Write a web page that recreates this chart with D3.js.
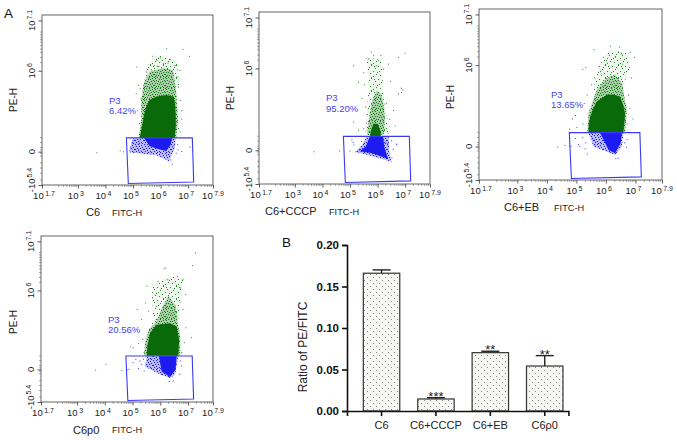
<!DOCTYPE html>
<html><head><meta charset="utf-8">
<script src="https://cdn.jsdelivr.net/npm/d3@7"></script>
<style>html,body{margin:0;background:#fff}svg{display:block}text{font-family:"Liberation Sans",Arial,sans-serif}</style>
</head><body><svg id="c" width="677" height="440"></svg>
<script>
// ---- flow cytometry data: x in log10 decades, y in channel % of the display ----
const xMajor=[1.7,3,4,5,6,7,7.9];
const xMajorSup=["1.7","3","4","5","6","7","7.9"];
const yMajor=[0,19.6,67.2,96.8];
const yMajorLabels=[["-10","5.4"],["0",""],["10","6"],["10","7.1"]];
const yMinor=[3,7,10,13,17,18.6,20.6,22,25,27.8,72,75,78,80,82,84,85.5,87,88.5,90];
const xMinorDecades=[2,3,4,5,6,7];
const xMinorFactors=[2,3,4,5,6,7,8,9];
const gate=[[4.76,27.7],[7.15,27.7],[7.2,1.8],[4.83,0.9]];

const c6Dense=[[5.24,27.6],[6.51,27.6],[6.55,34],[6.55,40.3],[6.53,47],[6.47,52],[6.21,53],[5.85,52],[5.6,50],[5.48,46],[5.4,41.3],[5.32,34],[5.27,30]];
const c6Mid=[[5.3,50],[5.39,59.9],[5.61,66.7],[6.09,68.7],[6.45,67.7],[6.57,54],[6.63,38.4],[6.57,27.8],[5.2,27.8],[5.3,38]];
const c6Light=[[5.36,56],[5.5,70],[5.8,76],[6.2,76],[6.6,72],[6.68,58],[6.3,55],[5.6,55]];
const c6BlueMid=[[5.0,27.4],[6.55,27.4],[6.5,21],[6.3,13.9],[6.05,16],[5.85,17.5],[5.3,18.5],[4.85,19.2]];
const c6BlueDense=[[5.4,27.6],[6.42,27.6],[6.36,23.5],[6.2,20],[5.85,21.5],[5.6,23]];
const c6Green=[[5.7,76],[6.2,80.4],[6.79,80],[7.03,76],[6.69,67.7],[5.12,69.7],[5.18,59],[5.1,54],[6.75,39],[6.69,31.5],[3.67,19.2],[4.52,20.4],[4.64,19.8],[5.85,73.6],[5.97,75],[6.09,71.6],[6.33,74],[6.51,70.6],[5.48,66.7],[5.75,70.6],[5.55,62.8],[6.57,63.8],[6.63,57.9],[5.24,57],[5.27,51],[6.69,50],[6.75,44],[5.15,44],[5.22,36.4],[6.63,33.5],[5.65,68],[5.92,70],[6.25,72],[6.42,66],[6.6,68],[5.42,60]];
const c6Blue=[[4.9,22],[4.95,25],[5.02,19.5],[5.1,23],[5.18,21],[6.6,24],[6.62,21],[6.55,19],[6.35,15],[6.4,12.5],[7.05,22.5],[6.75,20],[5.2,26],[4.98,26.5]];

const cccpMid=[[5.62,28.6],[6.22,28.6],[6.26,36],[6.24,44],[6.14,52],[5.98,54],[5.84,50],[5.72,42]];
const cccpDense=[[5.72,27.6],[6.12,27.6],[6.1,31],[6.0,35],[5.85,35],[5.76,31]];
const cccpLight=[[5.6,73.9],[6.14,72],[6.2,56.6],[6.26,43],[6.5,29.5],[5.56,28.6],[5.62,43],[5.68,58.5]];
const cccpBlueMid=[[5.6,27.6],[6.4,27.6],[6.42,20],[6.5,13],[6.14,14.5],[5.7,16.5],[5.2,18.8],[5.45,23]];
const cccpBlueDense=[[5.72,27.6],[6.2,27.6],[6.24,21.8],[6.38,14.5],[6.14,16],[5.78,18],[5.36,19],[5.58,22]];
const cccpGreen=[[6.98,76.3],[6.74,73.9],[5.11,69],[5.29,59.5],[6.84,56],[6.74,52.7],[5.11,36.3],[3.67,19],[4.6,19.5],[6.38,70],[5.84,74.9],[5.66,73],[6.02,72],[6.2,67],[5.48,65],[5.42,50],[6.56,43],[6.62,34],[5.48,32.4],[5.29,31.5],[6.9,55],[6.85,53.5],[6.45,60],[6.3,47],[6.42,38],[5.55,45],[5.5,58],[5.75,77],[5.95,69],[6.1,75]];
const cccpBlue=[[5.1,24.5],[5.12,23],[4.98,19.5],[6.66,23.5],[6.68,23],[5.05,26],[6.5,15.5],[6.55,20.5],[6.49,25.5],[5.32,20],[5.2,19],[6.35,24],[5.4,25]];

const ebDense=[[5.41,27.9],[6.59,27.9],[6.63,34],[6.65,39],[6.58,44],[6.48,48.8],[6.25,50],[6.03,49.8],[5.69,45.9],[5.55,41],[5.47,37.1],[5.42,32]];
const ebMid=[[5.37,27.9],[6.65,27.9],[6.71,41],[6.54,56.6],[6.31,61.5],[6.03,59.6],[5.69,52.7],[5.41,39]];
const ebLight=[[5.58,52.7],[5.75,66.4],[6.14,76.2],[6.71,74.2],[6.82,66.4],[6.54,52.7]];
const ebBlueMid=[[5.41,27.3],[6.59,27.3],[6.54,19.5],[6.31,14.6],[6.03,16.6],[5.58,19.5]];
const ebBlueDense=[[5.8,27.6],[6.54,27.6],[6.5,21.5],[6.31,15.6],[6.09,17.6],[5.95,22.5]];
const ebGreen=[[6.14,78.5],[6.45,78],[5.58,76.5],[6.8,75],[6.95,72],[5.3,66],[5.2,65],[5.6,60],[5.35,50],[4.95,38],[4.85,36],[5.25,45],[6.85,60],[6.75,50],[6.8,42],[5.9,72],[6.3,72],[5.5,56],[4.6,20.5],[4.35,19.5],[5.0,31],[5.2,33],[4.75,30],[6.7,33],[6.9,36],[6.55,68],[6.0,70],[6.5,74]];
const ebBlue=[[4.95,24.5],[5.05,21],[5.2,25],[5.1,20],[5.3,22],[6.62,22],[6.7,24],[6.68,19.5],[6.4,13],[6.32,12.8],[5.28,18.5],[5.35,15.5],[4.8,20]];

const p0Dense=[[5.51,27.9],[6.65,27.9],[6.68,37.5],[6.59,45.5],[6.35,47.5],[5.87,46.5],[5.63,41.5],[5.53,33.5]];
const p0Mid=[[5.42,28],[6.72,28],[6.72,40],[6.62,48],[6.55,58],[6.3,64],[6.1,58],[5.85,48],[5.6,44],[5.45,36]];
const p0Light=[[5.69,70.5],[6.47,75.5],[6.83,74.5],[6.65,49.5],[5.45,35.5],[5.75,49.5]];
const p0BlueMid=[[5.51,27.5],[6.65,27.5],[6.53,16.4],[6.35,14.4],[5.87,17.4],[5.45,21.4]];
const p0BlueDense=[[5.95,27.9],[6.59,27.9],[6.55,19.4],[6.35,15],[6.05,18.4]];
const p0Green=[[7.25,90],[7.14,82.5],[6.18,81],[6.12,80.5],[6.6,76],[6.8,74],[5.5,70],[5.9,73],[6.25,74],[5.15,56],[5.45,60],[5.3,50],[6.8,56],[6.9,45],[7.1,39],[6.85,36],[5.2,35.5],[4.9,33.5],[5.0,33],[3.65,19.5],[4.03,23],[4.6,19.2],[6.9,65],[6.7,69],[5.7,63],[5.55,55],[5.35,38],[5.4,30],[6.75,30]];
const p0Blue=[[4.85,20],[5.0,24],[5.1,26],[5.2,20.5],[5.3,23],[5.25,25],[6.75,22],[6.7,25],[6.68,17],[6.45,13],[6.3,12.6],[5.4,19],[5.38,26],[4.78,19.5]];

const flowPanels=[
 {name:"C6",pct:"6.42%",dense:c6Dense,mid:c6Mid,light:c6Light,blueMid:c6BlueMid,blueDense:c6BlueDense,green:c6Green,blue:c6Blue},
 {name:"C6+CCCP",pct:"95.20%",dense:cccpDense,mid:cccpMid,light:cccpLight,blueMid:cccpBlueMid,blueDense:cccpBlueDense,green:cccpGreen,blue:cccpBlue},
 {name:"C6+EB",pct:"13.65%",dense:ebDense,mid:ebMid,light:ebLight,blueMid:ebBlueMid,blueDense:ebBlueDense,green:ebGreen,blue:ebBlue},
 {name:"C6p0",pct:"20.56%",dense:p0Dense,mid:p0Mid,light:p0Light,blueMid:p0BlueMid,blueDense:p0BlueDense,green:p0Green,blue:p0Blue}];

// ---- bar chart data ----
const barCategories=["C6","C6+CCCP","C6+EB","C6ρ0"];
const barValues=[0.166,0.0145,0.0703,0.0542];
const barErrorTops=[0.170,0.016,0.072,0.0667];
const barStars=["","***","**","**"];
const barTicks=[0,0.05,0.10,0.15,0.20];

// ---- layout (separate from data) ----
const layouts=[
 {L:42,R:213,T:15,B:185,pe:[17,100],p3:[109,104],pct:114,nm:[86,216],fi:[112,216]},
 {L:259,R:430,T:12,B:184,pe:[234,98],p3:[326,101],pct:112,nm:[265,215],fi:[329,215]},
 {L:479,R:662,T:9,B:180,pe:[454,97],p3:[551,98],pct:108,nm:[504,211],fi:[554,211]},
 {L:41,R:213,T:236,B:402,pe:[17,322],p3:[108,323],pct:333,nm:[73,434],fi:[112,433]}];

const svg=d3.select("#c");
const defs=svg.append("defs");
function tile(id,w,h,col,base,dots){
  const p=defs.append("pattern").attr("id",id).attr("width",w).attr("height",h).attr("patternUnits","userSpaceOnUse");
  p.append("rect").attr("width",w).attr("height",h).attr("fill",base);
  dots.forEach(d=>p.append("rect").attr("x",d[0]).attr("y",d[1]).attr("width",1).attr("height",1).attr("fill",col));
}
const midDots=[[0,0],[3,0],[6,0],[9,1],[1,1],[5,2],[7,2],[10,3],[2,3],[0,4],[4,4],[8,4],[6,5],[1,6],[3,6],[9,6],[5,7],[7,7],[0,8],[10,8],[2,9],[4,9],[8,9],[6,10],[1,10],[9,10]];
const lightDots=[[1,1],[7,0],[11,3],[4,4],[9,6],[0,7],[6,8],[12,9],[3,10],[9,11],[5,2],[2,6],[10,1],[7,12]];
const blueDots=[[0,0],[3,0],[6,1],[1,2],[4,2],[7,3],[2,4],[5,4],[8,5],[0,5],[3,6],[6,7],[1,7],[4,8],[7,8]];
tile("gMid",11,11,"#0f750f","#a9cfa9",midDots);
tile("gLight",13,13,"#2a8a2a","#eef6ee",lightDots);
tile("bMid",9,9,"#1c1cf5","#b9b9fb",blueDots);

const GREEN="#0a6a0a",BLUE="#1c1cf0",GATE="#3a3af5",LBL="#3f3ff5";
flowPanels.forEach((p,i)=>{
  const l=layouts[i];
  const x=d3.scaleLinear().domain([1.7,7.9]).range([l.L,l.R]);
  const y=d3.scaleLinear().domain([0,100]).range([l.B,l.T]);
  const g=svg.append("g");
  const line=d3.line().x(d=>x(d[0])).y(d=>y(d[1])).curve(d3.curveLinearClosed);
  const area=(pts,fill)=>{if(pts)g.append("path").attr("d",line(pts)).attr("fill",fill);};
  area(p.light,"url(#gLight)");
  area(p.mid,"url(#gMid)");
  area(p.dense,GREEN);
  area(p.blueMid,"url(#bMid)");
  area(p.blueDense,BLUE);
  g.selectAll(".s").data(p.green).join("rect").attr("x",d=>x(d[0])).attr("y",d=>y(d[1])).attr("width",1).attr("height",1).attr("fill","#2a8a2a");
  g.selectAll(".b").data(p.blue).join("rect").attr("class","b").attr("x",d=>x(d[0])).attr("y",d=>y(d[1])).attr("width",1).attr("height",1).attr("fill","#3b3bf5");
  g.append("path").attr("d",line(gate)).attr("fill","none").attr("stroke",GATE).attr("stroke-width",1.1);
  // frame
  g.append("rect").attr("x",l.L).attr("y",l.T).attr("width",l.R-l.L).attr("height",l.B-l.T).attr("fill","none").attr("stroke","#555").attr("stroke-width",.9);
  // x axis
  const xAx=d3.axisBottom(x).tickValues(xMajor).tickSize(3.5).tickFormat("");
  const xg=g.append("g").attr("transform",`translate(0,${l.B})`).call(xAx);
  xg.select(".domain").remove();
  xg.selectAll("line").attr("stroke","#333").attr("stroke-width",.8);
  const minors=xMinorDecades.flatMap(k=>xMinorFactors.map(f=>k+Math.log10(f))).filter(v=>v>1.7&&v<7.9);
  g.selectAll(".mx").data(minors).join("line").attr("x1",d=>x(d)).attr("x2",d=>x(d)).attr("y1",l.B).attr("y2",l.B+2).attr("stroke","#555").attr("stroke-width",.5);
  xMajor.forEach((v,j)=>{
    const s=xMajorSup[j];
    const t=g.append("text").attr("x",x(v)+(s.length>1?(v<2?2:0):-2)).attr("y",l.B+14).attr("text-anchor","middle").attr("font-size",9.5).attr("fill","#222");
    t.append("tspan").text("10");
    t.append("tspan").attr("font-size",7).attr("dy",-3.5).attr("dx",1.5).text(s);
  });
  // y axis
  const yAx=d3.axisLeft(y).tickValues(yMajor).tickSize(3.5).tickFormat("");
  const yg=g.append("g").attr("transform",`translate(${l.L},0)`).call(yAx);
  yg.select(".domain").remove();
  yg.selectAll("line").attr("stroke","#333").attr("stroke-width",.8);
  g.selectAll(".my").data(yMinor).join("line").attr("x1",l.L-2).attr("x2",l.L).attr("y1",d=>y(d)).attr("y2",d=>y(d)).attr("stroke","#555").attr("stroke-width",.5);
  yMajor.forEach((v,j)=>{
    const [b,s]=yMajorLabels[j];
    const py=y(v)+(j===0?-5:0);
    const t=g.append("text").attr("transform",`translate(${l.L-7},${py}) rotate(-90)`).attr("text-anchor","middle").attr("font-size",9.5).attr("fill","#222");
    t.append("tspan").text(b);
    if(s)t.append("tspan").attr("font-size",7).attr("dy",-3.5).attr("dx",1).text(s);
  });
  // labels
  g.append("text").attr("transform",`translate(${l.pe[0]},${l.pe[1]}) rotate(-90)`).attr("text-anchor","middle").attr("font-size",10).attr("fill","#222").text("PE-H");
  g.append("text").attr("x",l.p3[0]).attr("y",l.p3[1]).attr("font-size",9.5).attr("fill",LBL).text("P3");
  g.append("text").attr("x",l.p3[0]).attr("y",l.pct).attr("font-size",9.5).attr("fill",LBL).text(p.pct);
  g.append("text").attr("x",l.nm[0]).attr("y",l.nm[1]).attr("font-size",11).attr("fill","#222").text(p.name);
  g.append("text").attr("x",l.fi[0]).attr("y",l.fi[1]).attr("font-size",9.2).attr("fill","#222").text("FITC-H");
});

// panel letters
svg.append("text").attr("x",4).attr("y",18).attr("font-size",13.5).attr("fill","#111").text("A");
svg.append("text").attr("x",282).attr("y",247).attr("font-size",13.5).attr("fill","#111").text("B");

// bar chart
const bx=d3.scaleBand().domain(barCategories).range([347,568.4]).paddingInner(.33).paddingOuter(.2).align(.75);
const by=d3.scaleLinear().domain([0,.2]).range([411,245]);
const dp=defs.append("pattern").attr("id","dots").attr("width",6).attr("height",6).attr("patternUnits","userSpaceOnUse");
dp.append("rect").attr("width",6).attr("height",6).attr("fill","#f6f6f3");
[[1,1],[4,4]].forEach(d=>dp.append("rect").attr("x",d[0]).attr("y",d[1]).attr("width",1).attr("height",1).attr("fill","#888"));
const bg=svg.append("g");
bg.selectAll("rect").data(barCategories).join("rect")
  .attr("x",d=>bx(d)).attr("width",bx.bandwidth())
  .attr("y",(d,i)=>by(barValues[i])).attr("height",(d,i)=>by(0)-by(barValues[i]))
  .attr("fill","url(#dots)").attr("stroke","#333").attr("stroke-width",1.2);
barCategories.forEach((c,i)=>{
  const m=bx(c)+bx.bandwidth()/2;
  bg.append("line").attr("x1",m).attr("x2",m).attr("y1",by(barValues[i])).attr("y2",by(barErrorTops[i])).attr("stroke","#222").attr("stroke-width",1.4);
  bg.append("line").attr("x1",m-9).attr("x2",m+9).attr("y1",by(barErrorTops[i])).attr("y2",by(barErrorTops[i])).attr("stroke","#222").attr("stroke-width",1.4);
  if(barStars[i])bg.append("text").attr("x",m).attr("y",by(barErrorTops[i])+3).attr("text-anchor","middle").attr("font-size",13).attr("fill","#222").text(barStars[i]);
});
const ya=svg.append("g").attr("transform","translate(347,0)").call(d3.axisLeft(by).tickValues(barTicks).tickFormat(d3.format(".2f")).tickSize(5));
ya.select(".domain").attr("stroke","#111").attr("stroke-width",1.6);
ya.selectAll("line").attr("stroke","#111").attr("stroke-width",1.6);
ya.selectAll("text").attr("font-family","Liberation Sans").attr("font-size",11.5).attr("font-weight","bold").attr("fill","#111");
const xa=svg.append("g").attr("transform","translate(0,411)").call(d3.axisBottom(bx).tickSize(5));
xa.select(".domain").attr("stroke","#111").attr("stroke-width",1.6);
xa.selectAll("line").attr("stroke","#111").attr("stroke-width",1.6);
xa.selectAll("text").attr("font-family","Liberation Sans").attr("font-size",11).attr("fill","#222").attr("dy",".9em");
svg.append("text").attr("transform","translate(307,347) rotate(-90)").attr("text-anchor","middle").attr("font-size",12).attr("fill","#222").text("Ratio of PE/FITC");
</script></body></html>
